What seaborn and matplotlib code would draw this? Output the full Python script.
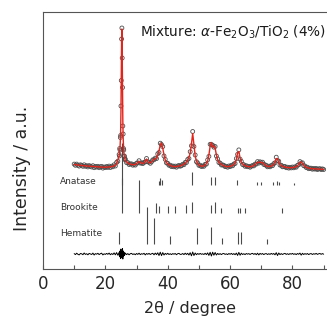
import numpy as np
import pandas as pd
import matplotlib
matplotlib.use("Agg")
import matplotlib.pyplot as plt
import seaborn as sns

# 2theta sampling: coarse steps, fine steps around the main anatase (101) peak
tt_seg1 = np.linspace(10.0, 24.0, 36)
tt_seg2 = np.linspace(24.4, 26.3, 20)
tt_seg3 = np.linspace(26.4, 90.0, 160)

# calculated profile (a.u.)
calc_seg1 = [104.5, 104.3, 104.1, 104.0, 103.8, 103.7, 103.5, 103.4, 103.2, 103.1,
             103.0, 102.9, 102.8, 102.6, 102.5, 102.4, 102.3, 102.2, 102.1, 102.0,
             101.9, 101.9, 101.8, 101.8, 101.8, 101.8, 101.9, 101.9, 102.0, 102.2,
             102.4, 102.7, 103.1, 103.8, 105.2, 109.0]
calc_seg2 = [113, 115, 118, 122, 128, 138, 158, 192, 228, 240,
             215, 176, 148, 132, 123, 117, 114, 112, 110.5, 109.5]
calc_seg3 = [108.5, 107.0, 106.0, 105.3, 104.8, 104.5, 104.3, 104.3, 104.6, 105.3,
             106.5, 107.5, 106.5, 105.8, 105.6, 106.0, 108.0, 110.0, 107.5, 106.2,
             106.2, 107.0, 108.5, 110.0, 110.0, 111.0, 114.0, 118.0, 124.0, 126.0,
             121.0, 114.0, 109.0, 106.5, 105.0, 104.2, 103.5, 103.0, 102.6, 102.4,
             102.4, 102.5, 102.7, 102.9, 103.2, 103.6, 104.2, 104.9, 105.8, 107.0,
             108.8, 111.5, 116.0, 125.0, 135.5, 124.0, 113.0, 108.0, 105.5, 104.0,
             103.2, 102.8, 102.8, 103.2, 104.0, 105.5, 108.0, 114.0, 123.0, 126.5,
             122.0, 123.0, 121.0, 114.0, 109.5, 107.0, 105.5, 104.6, 103.8, 103.2,
             102.8, 102.5, 102.4, 102.5, 102.7, 103.1, 103.7, 104.6, 106.2, 109.5,
             116.0, 117.5, 111.0, 106.8, 105.0, 104.0, 103.3, 102.8, 102.5, 102.3,
             102.3, 102.5, 102.9, 103.5, 104.4, 105.6, 106.6, 106.8, 106.6, 106.6,
             106.3, 105.2, 104.0, 103.2, 102.7, 102.5, 102.6, 102.9, 103.6, 104.8,
             107.0, 110.5, 110.0, 106.8, 104.5, 103.4, 102.7, 102.2, 101.9, 101.7,
             101.5, 101.4, 101.3, 101.3, 101.4, 101.6, 101.9, 102.4, 103.2, 104.5,
             106.5, 107.0, 105.5, 103.8, 102.6, 101.8, 101.3, 100.9, 100.6, 100.4,
             100.3, 100.2, 100.1, 100.0, 99.9, 99.9, 99.8, 99.8, 99.7, 99.7]

# difference (obs - calc)
diff_seg1 = [0.4, -0.6, 0.8, -0.3, -0.9, 0.5, 0.2, -0.7, 1.0, -0.4,
             0.3, -0.8, 0.6, 0.1, -0.5, 0.9, -1.0, 0.4, -0.2, 0.7,
             -0.6, 0.3, 0.8, -0.9, 0.2, -0.4, 0.6, -0.3, 0.9, -0.7,
             0.4, -0.5, 1.1, -0.8, 1.4, -1.2]
diff_seg2 = [1.5, -2.0, 2.5, -3.0, 3.5, -4.5, 5.0, -3.5, 2.0, 1.0,
             -4.0, 5.5, -5.0, 3.0, -2.5, 2.0, -1.5, 1.0, -1.0, 0.8]
diff_seg3 = [0.9, -0.6, 0.4, -0.8, 0.3, 0.6, -0.5, 0.2, -0.7, 0.5,
             -0.4, 0.8, -0.6, 0.3, -0.2, 0.7, -0.9, 0.5, -0.3, 0.6,
             -0.5, 0.2, 0.7, -0.8, 0.9, -0.6, 1.2, -1.5, 1.8, -1.6,
             1.4, -1.0, 0.6, -0.4, 0.7, -0.5, 0.3, -0.6, 0.4, -0.2,
             0.5, -0.7, 0.3, 0.6, -0.4, -0.3, 0.5, -0.6, 0.8, -0.5,
             0.7, -1.0, 1.3, -1.8, 2.0, -1.5, 1.0, -0.7, 0.5, -0.4,
             0.6, -0.3, 0.2, -0.5, 0.7, -0.6, 1.1, -1.4, 1.7, -2.0,
             1.8, -1.2, 1.5, -1.0, 0.6, -0.5, 0.4, -0.6, 0.3, 0.5,
             -0.4, 0.2, -0.6, 0.5, -0.3, 0.6, -0.5, 0.4, -0.7, 0.9,
             -1.4, 1.6, -1.2, 0.8, -0.5, 0.3, -0.6, 0.5, -0.2, 0.4,
             -0.5, 0.3, 0.6, -0.4, 0.5, -0.7, 0.8, -0.9, 0.6, -0.3,
             0.5, -0.6, 0.2, 0.4, -0.5, 0.3, -0.4, 0.6, -0.3, 0.5,
             -0.8, 1.3, -1.5, 1.0, -0.6, 0.4, -0.5, 0.2, 0.6, -0.4,
             0.3, -0.5, 0.4, -0.2, 0.6, -0.4, 0.3, -0.6, 0.5, -0.3,
             0.9, -1.1, 0.7, -0.5, 0.4, -0.3, 0.5, -0.6, 0.2, 0.4,
             -0.5, 0.3, -0.2, 0.6, -0.4, 0.2, 0.5, -0.3, 0.4, -0.2]

# reference reflections (position, bar height)
anatase_pos = [25.2, 37.2, 37.6, 38.3, 47.9, 53.8, 55.3, 62.1, 68.5, 69.9, 73.6, 74.9, 75.6, 80.4]
anatase_int = [42, 4, 7, 5, 13, 8, 8, 5, 3, 3, 3, 4, 3, 2]
brookite_pos = [25.3, 30.8, 36.2, 37.2, 40.2, 42.3, 45.8, 47.9, 53.8, 55.1, 57.0, 62.6, 63.3, 64.7, 76.6]
brookite_int = [35, 33, 10, 7, 7, 7, 8, 11, 8, 11, 5, 5, 5, 5, 5]
hematite_pos = [24.3, 33.2, 35.7, 40.8, 49.4, 54.0, 57.4, 62.4, 63.6, 71.8]
hematite_int = [12, 37, 26, 8, 16, 17, 6, 12, 12, 5]

phases = ["Anatase", "Brookite", "Hematite"]
phase_base = [84, 56, 25]
label_y = [88, 62, 35]
diff_base = 15

df = pd.DataFrame({
    "tt": np.concatenate([tt_seg1, tt_seg2, tt_seg3]),
    "calc": calc_seg1 + calc_seg2 + calc_seg3,
    "diff": diff_seg1 + diff_seg2 + diff_seg3,
})
df["obs"] = df["calc"] + df["diff"]
df["diff_line"] = df["diff"] + diff_base

sns.set_style("ticks")
plt.rcParams["font.family"] = ["DejaVu Sans"]
plt.rcParams["mathtext.fontset"] = "dejavusans"

fig = plt.figure(figsize=(3.27, 3.2), dpi=100)
ax = fig.add_axes([43 / 327, 51 / 320, 295 / 327, 257 / 320])

# reference bars
bar_color = "#4a4a4a"
refs = [(anatase_pos, anatase_int), (brookite_pos, brookite_int), (hematite_pos, hematite_int)]
for (pos, hgt), base, ly, name in zip(refs, phase_base, label_y, phases):
    ax.vlines(pos, base, np.array(hgt) + base, color=bar_color, lw=0.8, zorder=1)
    ax.text(5.4, ly, name, fontsize=6.5, color="#333333", va="center", ha="left")

sns.scatterplot(data=df, x="tt", y="obs", ax=ax, marker="o", s=8,
                facecolor="none", edgecolor="#4d4d4d", linewidth=0.6, zorder=2)
sns.lineplot(data=df, x="tt", y="calc", ax=ax, color="#e3241b", lw=1.0, zorder=3,
             estimator=None)
sns.lineplot(data=df, x="tt", y="diff_line", ax=ax, color="black", lw=0.7, zorder=3,
             estimator=None)

ax.set_xlim(0, 94.6)
ax.set_ylim(0, 257)
ax.set_xticks([0, 20, 40, 60, 80])
ax.set_xticks([10, 30, 50, 70, 90], minor=True)
ax.set_yticks([])
ax.tick_params(axis="x", which="both", direction="in", length=3, width=0.8,
               color="#555555", labelsize=12, pad=4)
for s in ax.spines.values():
    s.set_color("#555555")
    s.set_linewidth(0.8)
ax.spines["right"].set_visible(False)

ax.set_xlabel("2θ / degree", fontsize=11.5)
ax.xaxis.set_label_coords(0.5, -0.125)
ax.set_ylabel("Intensity / a.u.", fontsize=12.5)
ax.yaxis.set_label_coords(-0.04, 0.393)

ax.text(0.96, 0.955, r"Mixture: $\alpha$-Fe$_2$O$_3$/TiO$_2$ (4%)",
        transform=ax.transAxes, ha="right", va="top", fontsize=9.8, color="#1a1a1a")

fig.savefig("out.png", dpi=100)
